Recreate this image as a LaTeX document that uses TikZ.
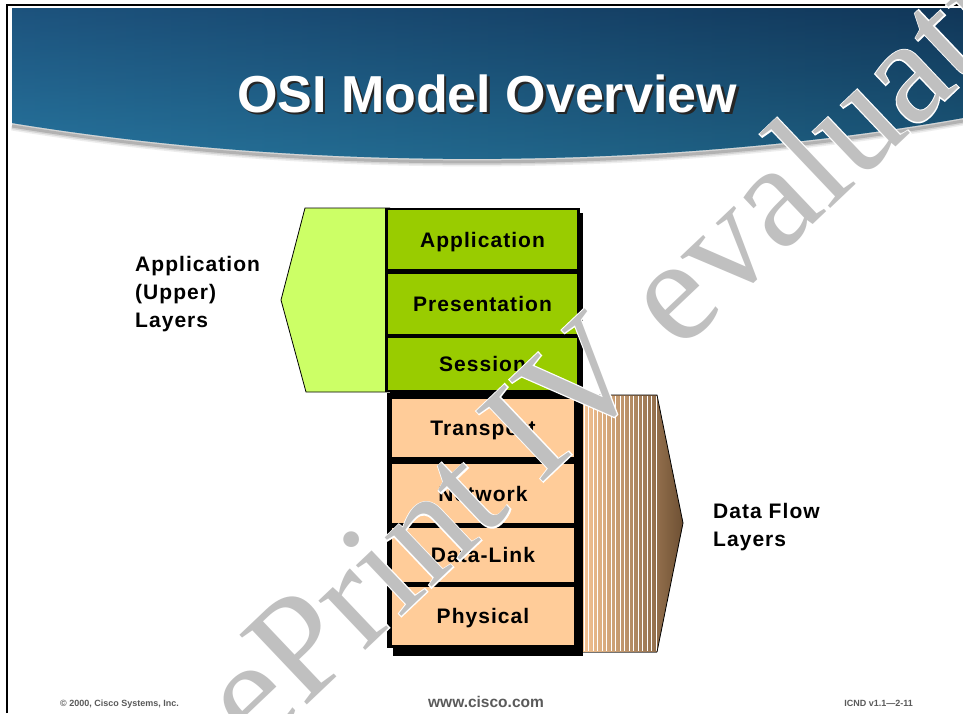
\documentclass[tikz,border=0pt]{standalone}
\usepackage{fontspec}
\setmainfont{Liberation Sans}
\newfontfamily\wmfont{Liberation Serif}
\newfontfamily\wmedge[FakeBold=1.6]{Liberation Serif}
\usepackage{tikz}
\definecolor{appgreen}{HTML}{99CC00}
\definecolor{uppergreen}{HTML}{CCFF66}
\definecolor{floworange}{HTML}{FFCC99}
\definecolor{flowbrown}{HTML}{6E5033}
\definecolor{footgrey}{HTML}{5A5A5A}
\definecolor{wmgrey}{HTML}{C0C0C0}
\definecolor{bannertop}{HTML}{1A4E78}
\definecolor{bannerbot}{HTML}{33A0C6}
\definecolor{bannerleft}{HTML}{1F5782}
\definecolor{bannermid}{HTML}{2E95BC}
\definecolor{bannerright}{HTML}{0A2440}
\tikzset{
  layertext/.style={font=\fontsize{21}{21}\selectfont\bfseries\addfontfeature{LetterSpace=5}, inner sep=0pt, anchor=base},
  sidelabel/.style={font=\fontsize{21}{28}\selectfont\bfseries\addfontfeature{LetterSpace=5}, align=left, inner sep=0pt, anchor=base west},
  titletext/.style={font=\fontsize{52}{52}\selectfont\bfseries, inner sep=0pt, anchor=base},
  footsmall/.style={font=\fontsize{9}{9}\selectfont\bfseries, text=footgrey, inner sep=0pt},
  footurl/.style={font=\fontsize{15.5}{15.5}\selectfont\bfseries, text=footgrey, inner sep=0pt, anchor=base},
  watermark/.style={font=\fontsize{148}{148}\selectfont\wmfont, text=wmgrey, inner sep=0pt, anchor=base west, rotate=43.5}
}
\newcommand{\bannerpath}{(12,8) -- (963,8) -- (963,118) .. controls (680,168) and (330,175) .. (12,123) -- cycle}
\newcommand{\layer}[7]{\fill[#6] (#2,#3) rectangle (#4,#5);
  \node[layertext] (#1) at ({(#2+#4)/2},{(#3+#5)/2+7.5}) {#7};}

\begin{document}
\begin{tikzpicture}[x=1pt,y=-1pt]
        \useasboundingbox (0,0) rectangle (963,713);
        \clip (0,0) rectangle (963,713);
        \fill[white] (0,0) rectangle (963,713);
        \draw[line width=1.6pt] (7,713) -- (7,5) -- (963,5);

        % banner
        \foreach \w/\o in {9/0.12, 6/0.2, 3/0.35}
          {\draw[line width=\w pt, black!55, opacity=\o] (12,126) .. controls (330,178) and (680,171) .. (963,121);}
        \shade[top color=bannertop, bottom color=bannerbot] \bannerpath;
        \shade[left color=bannerleft, middle color=bannermid, right color=bannerright, opacity=0.55] \bannerpath;
        \node[titletext, text=black!85] at (489.5,114.5) {OSI Model Overview};
        \node[titletext, text=white] (title) at (487,112) {OSI Model Overview};

        % upper layers
        \draw[fill=uppergreen, line width=0.8pt] (390,208) -- (305,208) -- (281,300) -- (306,392) -- (390,392);
        \fill (390,213) rectangle (583,397);
        \fill (385,208) rectangle (580,392);
        \layer{app}{388}{210}{577}{269}{appgreen}{Application}
        \layer{pres}{388}{274}{577}{334}{appgreen}{Presentation}
        \layer{sess}{388}{338}{577}{390}{appgreen}{Session}
        \node[sidelabel] (upperlbl) at (135,327) {Application\\(Upper)\\Layers};

        % data flow layers
        \shade[left color=floworange, right color=flowbrown] (575,395) -- (657,395) -- (683,523) -- (657,652) -- (575,652) -- cycle;
        \foreach \x in {584,588.5,...,657}
          {\draw[white, line width=0.9pt] (\x,396) -- (\x,651);}
        \draw[line width=0.8pt] (575,395) -- (657,395) -- (683,523) -- (657,652);
        \draw[line width=0.8pt, black!55] (657,652) -- (575,652);
        \fill (393,400) rectangle (583,656);
        \fill (387,393) rectangle (578,648);
        \layer{trans}{392}{399}{574}{457}{floworange}{Transport}
        \layer{net}{392}{464}{574}{523}{floworange}{Network}
        \layer{dlink}{392}{528}{574}{582}{floworange}{Data-Link}
        \layer{phys}{392}{587}{574}{645}{floworange}{Physical}
        \node[sidelabel] (flowlbl) at (713,546) {Data Flow\\Layers};

        % footer
        \node[footsmall, anchor=base west] (copyr) at (60,706) {\textcopyright{} 2000, Cisco Systems, Inc.};
        \node[footurl] (url) at (486,707) {www.cisco.com};
        \node[footsmall, anchor=base east] (slideno) at (913,706) {ICND v1.1---2-11};

        % watermark
        \node[watermark, text=white] at (256,754) {\wmedge ePrint IV evaluation};
        \node[watermark] (wm) at (256,754) {ePrint IV evaluation};
\end{tikzpicture}
\end{document}
